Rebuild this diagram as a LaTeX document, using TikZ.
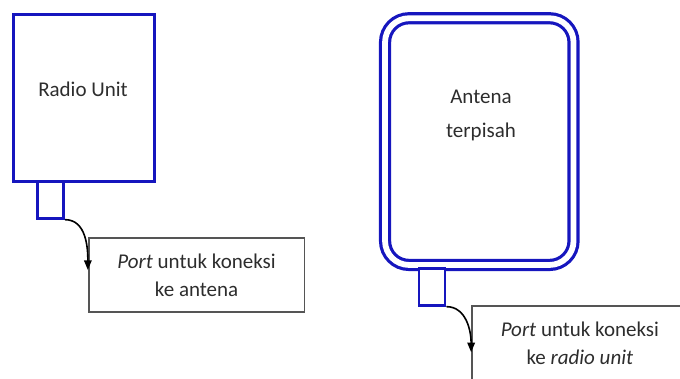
\documentclass[tikz,border=0pt]{standalone}
\usepackage{fontspec}
\setmainfont{Carlito}
\usetikzlibrary{arrows.meta,positioning}
\definecolor{ublue}{RGB}{22,22,190}
\definecolor{ngray}{RGB}{85,85,85}
\definecolor{tgray}{RGB}{45,45,45}

\begin{document}
\begin{tikzpicture}[x=1pt,y=-1pt,
      every node/.style={text=tgray, font=\fontsize{21}{28}\selectfont},
      unitbox/.style={draw=ublue, line width=3pt, inner sep=0pt},
      portbox/.style={draw=ublue, line width=2.8pt, fill=white, inner sep=0pt,
        minimum width=26pt, minimum height=36.5pt},
      notebox/.style={draw=ngray, line width=1.8pt, align=center, inner sep=0pt,
        minimum width=215.7pt, minimum height=74.2pt},
      arr/.style={-{Triangle[length=9.5pt,width=7.5pt]}, line width=1.6pt}]
    \clip (0,0) rectangle (680,379);
    % radio unit
    \node[unitbox, minimum width=141.4pt, minimum height=167pt] (ru) at (84,98.2) {};
    \node[anchor=base] (rul) at (83,97) {Radio Unit};
    \node[portbox] (rup) at (50.5,200) {};
    \node[notebox] (rut) at (196.6,274.9) {\textit{Port} untuk koneksi\\ke antena};
    \coordinate (rutip) at ([yshift=5pt]rut.west);
    \draw[arr] (rup.south east) to[out=0,in=90] (rutip);
    % antena
    \node[draw=ublue, double=white, double distance=5.8pt, line width=3.2pt,
      rounded corners=24pt, minimum width=188.5pt, minimum height=246.7pt] (ant) at (479.3,141.6) {};
    \node[align=center, font=\fontsize{21}{34}\selectfont] (antl) at (481,115) {Antena\\terpisah};
    \node[portbox] (antp) at (432,287) {};
    \node[notebox] (antt) at (579.9,343.2) {\textit{Port} untuk koneksi\\ke \textit{radio unit}};
    \coordinate (anttip) at ([yshift=-9pt]antt.west);
    \draw[arr] (antp.south east) to[out=0,in=90] (anttip);
  \end{tikzpicture}
\end{document}
